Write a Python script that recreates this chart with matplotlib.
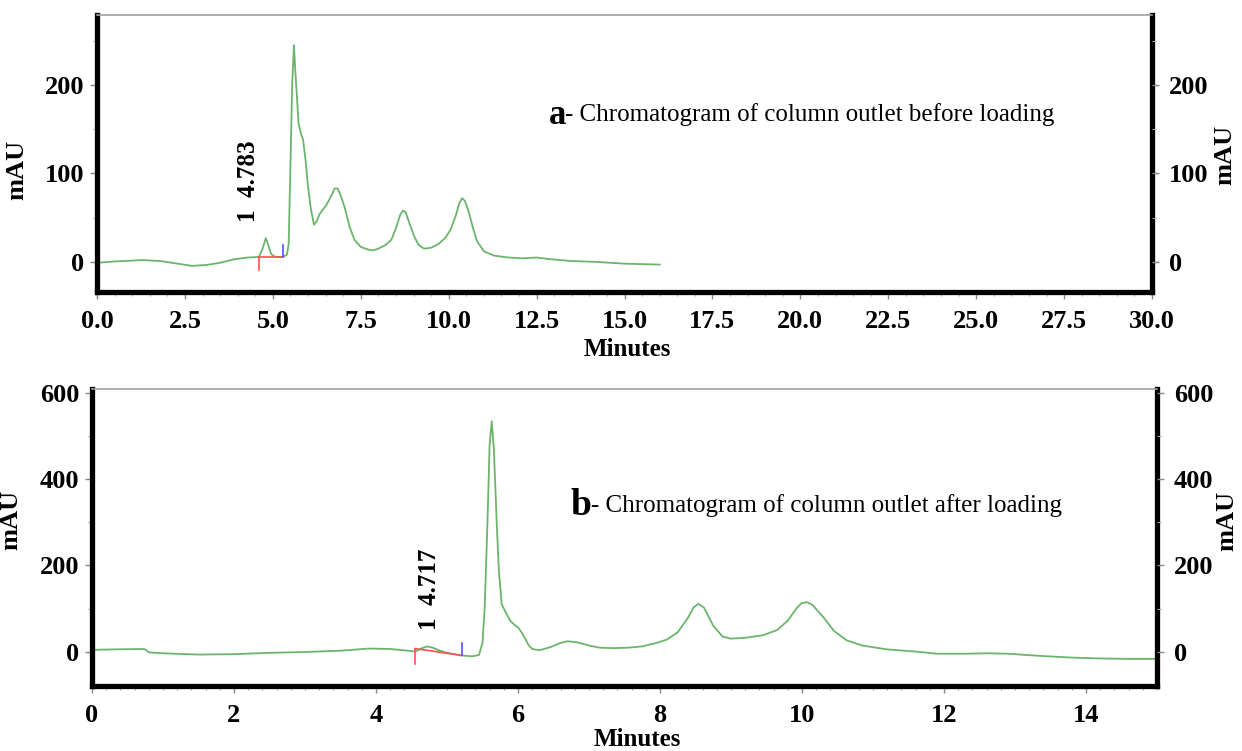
import matplotlib
matplotlib.use("Agg")
import matplotlib.pyplot as plt
from matplotlib.ticker import MultipleLocator

plt.rcParams["font.family"] = "Liberation Serif"

# column outlet before loading (minutes, mAU)
time_before = [0.0, 0.5, 1.0, 1.3, 1.8, 2.3, 2.7, 3.1, 3.5, 3.9, 4.3, 4.6, 4.7, 4.8,
               4.88, 4.95, 5.05, 5.2, 5.3, 5.4, 5.45, 5.5, 5.55, 5.6, 5.64, 5.68,
               5.73, 5.8, 5.86, 5.93, 6.0, 6.08, 6.17, 6.25, 6.33, 6.42, 6.52, 6.6,
               6.7, 6.76, 6.84, 6.92, 7.04, 7.18, 7.32, 7.5, 7.7, 7.85, 8.0, 8.2,
               8.37, 8.5, 8.62, 8.7, 8.78, 8.88, 9.03, 9.15, 9.3, 9.5, 9.7, 9.9,
               10.05, 10.2, 10.3, 10.38, 10.46, 10.56, 10.68, 10.8, 11.0, 11.3, 11.7,
               12.1, 12.5, 12.9, 13.5, 14.2, 15.0, 16.0]
mau_before = [-1, 0.5, 1.5, 2, 1, -2, -4.5, -3.5, -1, 3, 5, 5.6, 14, 27, 18, 9, 6,
              5.5, 6, 8, 20, 108, 200, 245, 215, 190, 157, 145, 138, 115, 85, 60, 42,
              46, 54, 59, 64, 70, 78, 83, 83, 76, 62, 40, 25, 17, 14, 13, 15, 19, 25,
              38, 53, 58, 56, 44, 28, 19, 15, 16, 20, 27, 36, 52, 66, 72, 69, 58, 40,
              24, 12, 7, 5, 4, 5, 3, 1, 0, -2, -3]

# column outlet after loading (minutes, mAU)
time_after = [0.0, 0.3, 0.7, 0.75, 0.8, 1.0, 1.5, 2.0, 2.5, 3.0, 3.5, 3.9, 4.2, 4.45,
              4.55, 4.65, 4.72, 4.8, 4.9, 5.0, 5.2, 5.35, 5.45, 5.5, 5.53, 5.57, 5.6,
              5.63, 5.66, 5.7, 5.73, 5.77, 5.83, 5.89, 5.95, 6.0, 6.05, 6.1, 6.15, 6.2,
              6.3, 6.45, 6.6, 6.7, 6.85, 7.0, 7.15, 7.35, 7.55, 7.75, 7.95, 8.1, 8.25,
              8.4, 8.47, 8.54, 8.62, 8.75, 8.88, 9.0, 9.2, 9.45, 9.65, 9.8, 9.92,
              9.99, 10.07, 10.15, 10.3, 10.45, 10.63, 10.85, 11.2, 11.6, 11.9, 12.3,
              12.6, 12.9, 13.35, 13.8, 14.2, 14.6, 15.0]
mau_after = [4, 5, 6, 5, -2, -4, -7, -6, -3, -1, 2, 7, 6, 2, 0, 8, 12, 9, 2, -3, -9,
             -11, -8, 20, 100, 300, 480, 535, 470, 300, 190, 110, 90, 72, 62, 56, 45,
             30, 15, 6, 3, 10, 20, 24, 21, 14, 9, 8, 9, 12, 20, 28, 45, 80, 102, 111,
             102, 60, 35, 30, 32, 38, 50, 72, 100, 112, 115, 108, 80, 48, 26, 14, 5,
             0, -5, -5, -4, -5, -10, -14, -16, -17, -17]

# integrated peak 1: start/end time and baseline level at each end
peak_before = {"rt": "4.783", "start": 4.6, "end": 5.28, "base_start": 5.6, "base_end": 5.6}
peak_after = {"rt": "4.717", "start": 4.55, "end": 5.21, "base_start": 7, "base_end": -9}

GREEN = "#6cb46c"
W, H = 1242, 751
TICK_SIZE = 19

fig = plt.figure(figsize=(W / 100, H / 100), dpi=100)
ax_a = fig.add_axes([97 / W, 1 - 292 / H, (1152 - 97) / W, (292 - 15) / H])
ax_b = fig.add_axes([92 / W, 1 - 686 / H, (1157 - 92) / W, (686 - 389) / H])


def style_axes(ax, xlim, ylim, xmajor, xminor, yticks, yminor, xfmt):
    ax.set_xlim(*xlim)
    ax.set_ylim(*ylim)
    for side in ("left", "bottom", "right"):
        ax.spines[side].set_linewidth(3.8)
        ax.spines[side].set_color("black")
    ax.spines["top"].set_linewidth(1.2)
    ax.spines["top"].set_color("#a0a0a0")
    ax.xaxis.set_major_locator(MultipleLocator(xmajor))
    ax.xaxis.set_minor_locator(MultipleLocator(xminor))
    ax.xaxis.set_major_formatter(xfmt)
    ax.set_yticks(yticks)
    ax.yaxis.set_minor_locator(MultipleLocator(yminor))
    ax.tick_params(axis="both", which="major", direction="out", length=5, width=1,
                   color="#888888", labelsize=TICK_SIZE)
    ax.tick_params(axis="both", which="minor", direction="out", length=3, width=0.8,
                   color="#aaaaaa")
    ax.tick_params(axis="x", pad=8)
    ax.tick_params(axis="y", pad=4)
    for lab in ax.get_xticklabels() + ax.get_yticklabels():
        lab.set_fontweight("bold")
    ax.set_xlabel("Minutes", fontsize=18, fontweight="bold")

    twin = ax.twinx()
    twin.set_ylim(*ylim)
    twin.set_yticks(yticks)
    twin.yaxis.set_minor_locator(MultipleLocator(yminor))
    twin.tick_params(axis="y", which="major", direction="out", length=5, width=1,
                     color="#888888", labelsize=TICK_SIZE, pad=7)
    twin.tick_params(axis="y", which="minor", direction="out", length=3, width=0.8,
                     color="#aaaaaa")
    for lab in twin.get_yticklabels():
        lab.set_fontweight("bold")
    for side in twin.spines:
        twin.spines[side].set_visible(False)
    ax.set_ylabel("mAU", fontsize=19, fontweight="bold")
    twin.set_ylabel("mAU", fontsize=19, fontweight="bold")
    return twin


def draw_peak_marks(ax, pk, red_drop, blue_rise, label_x, label_y):
    ax.plot([pk["start"], pk["end"]], [pk["base_start"], pk["base_end"]],
            color="#ff5050", lw=1.2)
    ax.plot([pk["start"], pk["start"]], [pk["base_start"], pk["base_start"] - red_drop],
            color="#ff5050", lw=1.2)
    ax.plot([pk["end"], pk["end"]], [pk["base_end"], pk["base_end"] + blue_rise],
            color="#5050ff", lw=1.2)
    ax.text(label_x, label_y, "1  " + pk["rt"], rotation=90, ha="center",
            va="bottom", fontsize=18, fontweight="bold")


# a - before loading
tw_a = style_axes(ax_a, (0, 30), (-34, 279), 2.5, 0.5, [0, 100, 200], 50,
                  lambda v, p: f"{v:.1f}")
ax_a.plot(time_before, mau_before, color=GREEN, lw=1.3)
draw_peak_marks(ax_a, peak_before, 15, 13, 4.31, 45)
ax_a.text(12.85, 166, "a", fontsize=25, fontweight="bold", va="center")
ax_a.text(13.3, 166, "- Chromatogram of column outlet before loading",
          fontsize=18, va="center")
ax_a.xaxis.set_label_coords(0.503, -0.165)
ax_a.yaxis.set_label_coords(-0.065, 0.44)
tw_a.yaxis.set_label_coords(1.058, 0.495)

# b - after loading
tw_b = style_axes(ax_b, (0, 15), (-80, 610), 2, 0.2, [0, 200, 400, 600], 100,
                  lambda v, p: f"{v:.0f}")
ax_b.plot(time_after, mau_after, color=GREEN, lw=1.3)
draw_peak_marks(ax_b, peak_after, 35, 30, 4.75, 51)
ax_b.text(6.74, 340, "b", fontsize=27, fontweight="bold", va="center")
ax_b.text(7.03, 340, "- Chromatogram of column outlet after loading",
          fontsize=18, va="center")
ax_b.xaxis.set_label_coords(0.512, -0.14)
ax_b.yaxis.set_label_coords(-0.065, 0.56)
tw_b.yaxis.set_label_coords(1.055, 0.556)

fig.savefig("out.png", dpi=100)
